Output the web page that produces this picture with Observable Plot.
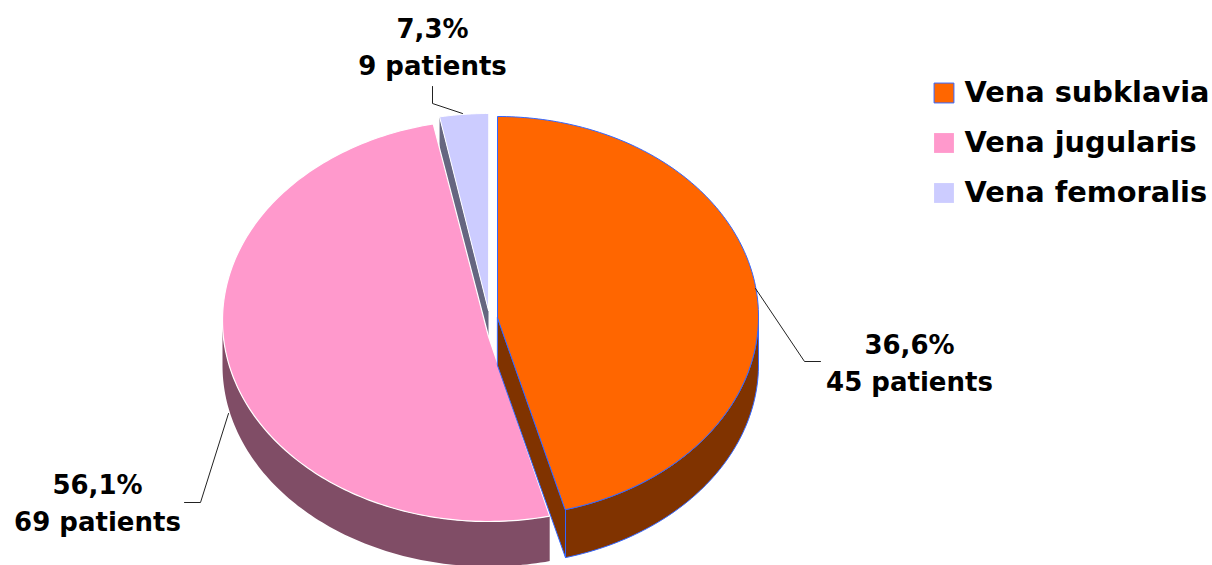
<!DOCTYPE html>
<html>
<head>
<meta charset="utf-8">
<script src="https://cdn.jsdelivr.net/npm/d3@7"></script>
<script src="https://cdn.jsdelivr.net/npm/@observablehq/plot@0.6"></script>
<style>html,body{margin:0;padding:0;background:#fff}svg{display:block}</style>
</head>
<body>
<div id="chart"></div>
<script>
const categories = ["Vena subklavia", "Vena jugularis", "Vena femoralis"];
const percentLabels = ["36,6%", "56,1%", "7,3%"];
const patients = [45, 69, 9];
// Angles of each slice as drawn in the picture (degrees clockwise from top)
const sliceFrom = [0, 166.7, 349.4];
const sliceTo = [164.9, 348, 360];
const topColors = ["#FF6600", "#FF99CC", "#CCCCFF"];
const wallColors = ["#803300", "#804D66", "#666680"];
const edgeColors = ["#3366FF", "#FFFFFF", "#FFFFFF"];
const ellipses = [
  {cx: 497, cy: 316, rx: 261, ry: 200, apexY: 317, depth: 48},
  {cx: 488, cy: 320, rx: 266, ry: 201, apexY: 336, depth: 45},
  {cx: 488, cy: 310, rx: 266, ry: 197, apexY: 310, depth: 48}
];
const labelX = [909, 97, 432];
const labelY = [360, 500, 44];
const leaders = [
  [[755, 288], [804, 361], [820, 361]],
  [[228, 413], [200, 502], [184, 502]],
  [[462, 113], [432, 103], [432, 86]]
];
const legendY = [92.5, 142.5, 192.5];

const rad = d => d * Math.PI / 180;
const arc = (e, a, b, dy = 0) =>
  d3.range(a, b, 1).concat([b]).map(t => ({
    x: e.cx + e.rx * Math.sin(rad(t)),
    y: e.cy - e.ry * Math.cos(rad(t)) + dy
  }));
const poly = (pts, fill, stroke, strokeWidth = 1) =>
  Plot.line(pts, {x: "x", y: "y", fill, stroke, strokeWidth, curve: "linear-closed"});
const apex = (i, dy = 0) => ({x: ellipses[i].cx, y: ellipses[i].apexY + dy});
const wall = (i, a, b) => {
  const e = ellipses[i];
  return arc(e, a, b).concat(arc(e, a, b, e.depth).reverse());
};
const face = i => [apex(i), ...arc(ellipses[i], sliceFrom[i], sliceTo[i])];

const fontFamily = "'DejaVu Sans', sans-serif";
const labelSize = 26;
const legendSize = 28.8;

const tipOrange = arc(ellipses[0], sliceTo[0], sliceTo[0])[0];
const lilacEdge = arc(ellipses[2], sliceFrom[2], sliceFrom[2])[0];

const marks = [
  // inner wall of the femoral slice
  poly([apex(2), lilacEdge, {x: lilacEdge.x, y: lilacEdge.y + ellipses[2].depth}, apex(2, ellipses[2].depth)], wallColors[2], "none"),
  // pink slice
  poly(wall(1, sliceFrom[1], 270), wallColors[1], "none"),
  poly(face(1), topColors[1], edgeColors[1], 1.2),
  // femoral slice
  poly(face(2), topColors[2], edgeColors[2], 1),
  // orange slice
  poly([apex(0), tipOrange, {x: tipOrange.x, y: tipOrange.y + ellipses[0].depth}, apex(0, ellipses[0].depth)], wallColors[0], edgeColors[0]),
  poly(wall(0, 90, sliceTo[0]), wallColors[0], edgeColors[0]),
  poly(face(0), topColors[0], edgeColors[0]),
  // leaders
  ...leaders.map(l => Plot.line(l, {x: d => d[0], y: d => d[1], stroke: "#222", strokeWidth: 1})),
  // data labels
  Plot.text(categories.map((c, i) => i), {
    x: i => labelX[i], y: i => labelY[i],
    text: i => `${percentLabels[i]}\n${patients[i]} patients`,
    lineHeight: 1.42, fontSize: labelSize, fontWeight: "bold", fontFamily, fill: "#000", textAnchor: "middle"
  }),
  // legend
  Plot.dot(categories, {
    x: () => 943.5, y: (d, i) => legendY[i], symbol: "square", r: 11.2,
    fill: (d, i) => topColors[i],
    stroke: (d, i) => i === 0 ? edgeColors[0] : "none", strokeWidth: 1
  }),
  Plot.text(categories, {
    x: () => 964, y: (d, i) => legendY[i], text: d => d,
    fontSize: legendSize, fontWeight: "bold", fontFamily, fill: "#000", textAnchor: "start"
  })
];

const chart = Plot.plot({
  width: 1212, height: 565,
  margin: 0,
  x: {domain: [0, 1212], range: [0, 1212], axis: null},
  y: {domain: [0, 565], range: [0, 565], axis: null},
  color: {type: "identity"},
  style: {background: "#fff", overflow: "hidden"},
  marks
});
document.getElementById("chart").append(chart);
</script>
</body>
</html>
